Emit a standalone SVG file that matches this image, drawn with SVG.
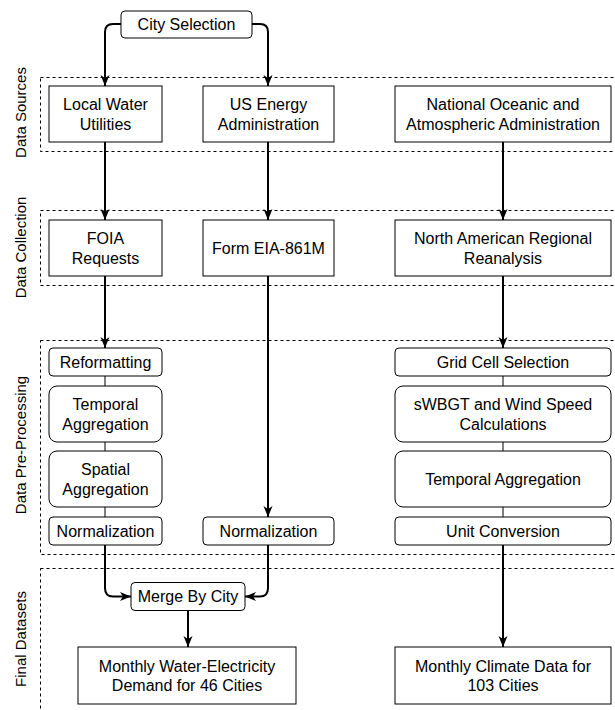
<svg xmlns="http://www.w3.org/2000/svg" width="615" height="710" viewBox="0 0 615 710">
<style>
text{font-family:"Liberation Sans",Arial,Helvetica,sans-serif;fill:#000;}
.t{font-size:16px;text-anchor:middle;}
.side{font-size:15px;text-anchor:middle;}
.box{fill:#fff;stroke:#000;stroke-width:1;}
.lane{fill:none;stroke:#000;stroke-width:1;stroke-dasharray:3 3;}
.con{fill:none;stroke:#000;stroke-width:2;}
.thin{fill:none;stroke:#000;stroke-width:1;}
</style>
<defs>
<marker id="arr" markerUnits="userSpaceOnUse" markerWidth="12" markerHeight="12" viewBox="0 0 12 12" refX="11" refY="6" orient="auto">
<path d="M0,1.5 L11,6 L0,10.5 L3,6 z" fill="#000"/>
</marker>
</defs>
<rect width="615" height="710" fill="#fff"/>

<g id="lanes">
<rect class="lane" x="40.5" y="77.5" width="600" height="74"/>
<rect class="lane" x="40.5" y="210.5" width="600" height="75"/>
<rect class="lane" x="40.5" y="340.5" width="600" height="214"/>
<rect class="lane" x="40.5" y="568.5" width="600" height="160"/>
<text class="side" transform="translate(25.5,112.5) rotate(-90)">Data Sources</text>
<text class="side" transform="translate(25.5,247.5) rotate(-90)">Data Collection</text>
<text class="side" transform="translate(25.5,445) rotate(-90)">Data Pre-Processing</text>
<text class="side" transform="translate(25.5,639) rotate(-90)">Final Datasets</text>
</g>

<g id="connectors">
<path class="con" d="M121,24 L113,24 Q105,24 105,32 L105,86" marker-end="url(#arr)"/>
<path class="con" d="M252,24 L260,24 Q268,24 268,32 L268,86" marker-end="url(#arr)"/>
<path class="con" d="M105,142 L105,220" marker-end="url(#arr)"/>
<path class="con" d="M268,142 L268,220" marker-end="url(#arr)"/>
<path class="con" d="M503,142 L503,220" marker-end="url(#arr)"/>
<path class="con" d="M105,276 L105,348" marker-end="url(#arr)"/>
<path class="con" d="M503,276 L503,348" marker-end="url(#arr)"/>
<path class="con" d="M268,276 L268,517" marker-end="url(#arr)"/>
<path class="thin" d="M105,376 L105,386 M105,442 L105,451 M105,507 L105,517"/>
<path class="thin" d="M503,376 L503,386 M503,442 L503,451 M503,507 L503,517"/>
<path class="con" d="M105,545 L105,588 Q105,596.5 113,596.5 L131,596.5" marker-end="url(#arr)"/>
<path class="con" d="M268,545 L268,588 Q268,596.5 260,596.5 L245,596.5" marker-end="url(#arr)"/>
<path class="con" d="M188,611 L188,647" marker-end="url(#arr)"/>
<path class="con" d="M503,545 L503,647" marker-end="url(#arr)"/>
</g>

<g id="city-selection">
<rect class="box" x="121" y="11" width="131" height="27" rx="4"/>
<text class="t" x="186.5" y="30">City Selection</text>
</g>

<g id="local-water">
<rect class="box" x="49" y="86" width="113" height="56"/>
<text class="t" x="105.5" y="110">Local Water</text>
<text class="t" x="105.5" y="129.5">Utilities</text>
</g>
<g id="us-energy">
<rect class="box" x="203" y="86" width="131" height="56"/>
<text class="t" x="268.5" y="110">US Energy</text>
<text class="t" x="268.5" y="129.5">Administration</text>
</g>
<g id="noaa">
<rect class="box" x="395" y="86" width="216" height="56"/>
<text class="t" x="503" y="110">National Oceanic and</text>
<text class="t" x="503" y="129.5">Atmospheric Administration</text>
</g>

<g id="foia">
<rect class="box" x="49" y="220" width="113" height="56"/>
<text class="t" x="105.5" y="244">FOIA</text>
<text class="t" x="105.5" y="263.5">Requests</text>
</g>
<g id="form-eia">
<rect class="box" x="203" y="220" width="131" height="56"/>
<text class="t" x="268.5" y="253.5">Form EIA-861M</text>
</g>
<g id="narr">
<rect class="box" x="395" y="220" width="216" height="56"/>
<text class="t" x="503" y="244">North American Regional</text>
<text class="t" x="503" y="263.5">Reanalysis</text>
</g>

<g id="reformatting">
<rect class="box" x="49" y="348" width="113" height="28" rx="4"/>
<text class="t" x="105.5" y="367.5">Reformatting</text>
</g>
<g id="temporal-agg-left">
<rect class="box" x="49" y="386" width="113" height="56" rx="8"/>
<text class="t" x="105.5" y="410">Temporal</text>
<text class="t" x="105.5" y="429.5">Aggregation</text>
</g>
<g id="spatial-agg">
<rect class="box" x="49" y="451" width="113" height="56" rx="8"/>
<text class="t" x="105.5" y="475">Spatial</text>
<text class="t" x="105.5" y="494.5">Aggregation</text>
</g>
<g id="normalization-left">
<rect class="box" x="49" y="517" width="113" height="28" rx="4"/>
<text class="t" x="105.5" y="536.5">Normalization</text>
</g>
<g id="normalization-mid">
<rect class="box" x="203" y="517" width="131" height="28" rx="4"/>
<text class="t" x="268.5" y="536.5">Normalization</text>
</g>

<g id="grid-cell">
<rect class="box" x="395" y="348" width="216" height="28" rx="4"/>
<text class="t" x="503" y="367.5">Grid Cell Selection</text>
</g>
<g id="swbgt">
<rect class="box" x="395" y="386" width="216" height="56" rx="8"/>
<text class="t" x="503" y="410">sWBGT and Wind Speed</text>
<text class="t" x="503" y="429.5">Calculations</text>
</g>
<g id="temporal-agg-right">
<rect class="box" x="395" y="451" width="216" height="56" rx="8"/>
<text class="t" x="503" y="484.5">Temporal Aggregation</text>
</g>
<g id="unit-conversion">
<rect class="box" x="395" y="517" width="216" height="28" rx="4"/>
<text class="t" x="503" y="536.5">Unit Conversion</text>
</g>

<g id="merge">
<rect class="box" x="131" y="582.5" width="114" height="28" rx="4"/>
<text class="t" x="188" y="602">Merge By City</text>
</g>
<g id="water-electricity">
<rect class="box" x="78" y="647" width="218" height="57"/>
<text class="t" x="187" y="671.5">Monthly Water-Electricity</text>
<text class="t" x="187" y="691">Demand for 46 Cities</text>
</g>
<g id="climate">
<rect class="box" x="395" y="647" width="216" height="57"/>
<text class="t" x="503" y="671.5">Monthly Climate Data for</text>
<text class="t" x="503" y="691">103 Cities</text>
</g>
</svg>
